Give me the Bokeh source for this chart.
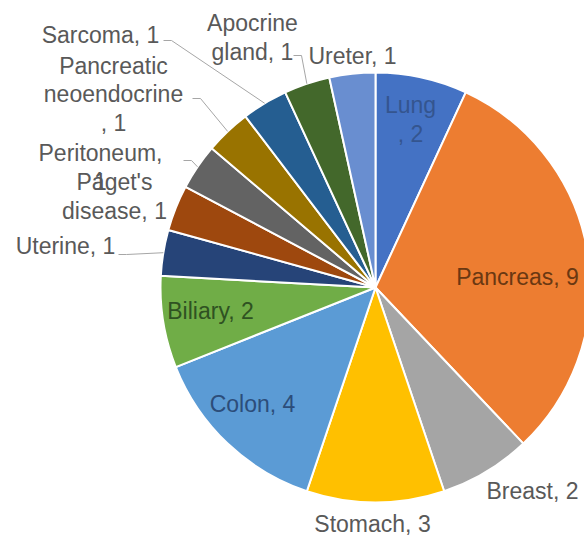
import math
from bokeh.plotting import figure
from bokeh.models import Range1d, ColumnDataSource
from bokeh.core.properties import value
from bokeh.embed import file_html
from bokeh.resources import INLINE

# ---- data ----
categories = ["Lung", "Pancreas", "Breast", "Stomach", "Colon", "Biliary", "Uterine",
              "Paget's disease", "Peritoneum", "Pancreatic neoendocrine", "Sarcoma",
              "Apocrine gland", "Ureter"]
counts = [2, 9, 2, 3, 4, 2, 1, 1, 1, 1, 1, 1, 1]
colors = ["#4472C4", "#ED7D31", "#A5A5A5", "#FFC000", "#5B9BD5", "#70AD47", "#264478",
          "#9E480E", "#636363", "#997300", "#255E91", "#43682B", "#698ED0"]
label_texts = ["Lung\n, 2", "Pancreas, 9", "Breast, 2", "Stomach, 3", "Colon, 4", "Biliary, 2",
               "Uterine, 1", "Páget's\ndisease, 1", "Peritoneum,\n1", "Pancreatic\nneoendocrine\n, 1",
               "Sarcoma, 1", "Apocrine\ngland, 1", "Ureter, 1"]

# ---- layout (pixel coordinates, y measured from top) ----
W, H = 584, 538
CX, CY, R = 375, 287, 215
label_pos = [(410, 119), (517, 276), (532, 490), (372, 523), (252, 403), (210, 310),
             (65, 245), (114, 196), (100, 167), (113, 94), (100, 34), (252, 37), (352, 55)]
label_colors = ["#34558f", "#6a3812", "#595959", "#595959", "#2c4d7a", "#2f5222",
                "#595959", "#595959", "#595959", "#595959", "#595959", "#595959", "#595959"]
# leader start points (pixel) for labels that have a leader line
leader_start = {"Sarcoma": (163, 40), "Apocrine gland": (293, 55),
                "Pancreatic neoendocrine": (192, 98), "Peritoneum": (183, 160),
                "Uterine": (118, 254)}

p = figure(width=W, height=H, output_backend="svg", toolbar_location=None,
           x_range=Range1d(0, W), y_range=Range1d(0, H), min_border=0)
p.axis.visible = False
p.grid.visible = False
p.outline_line_color = None
p.background_fill_color = "white"

total = sum(counts)
starts, ends, mids = [], [], []
cum = 0
for c in counts:
    a0 = math.pi / 2 - 2 * math.pi * cum / total
    a1 = math.pi / 2 - 2 * math.pi * (cum + c) / total
    starts.append(a0)
    ends.append(a1)
    mids.append((a0 + a1) / 2)
    cum += c

src = ColumnDataSource(dict(x=[CX] * len(counts), y=[H - CY] * len(counts),
                            start=starts, end=ends, color=colors, cat=categories))
p.wedge(x="x", y="y", radius=R, start_angle="start", end_angle="end", direction="clock",
        fill_color="color", line_color="white", line_width=2, source=src)

# leader lines
for i, cat in enumerate(categories):
    if cat in leader_start:
        sx, sy = leader_start[cat]
        ex = CX + R * math.cos(mids[i])
        ey = (H - CY) + R * math.sin(mids[i])
        xs = [sx, sx + 8, ex]
        ys = [H - sy, H - sy, ey]
        p.line(xs, ys, line_color="#A6A6A6", line_width=1)

lsrc = ColumnDataSource(dict(x=[lp[0] for lp in label_pos], y=[H - lp[1] for lp in label_pos],
                             text=label_texts, color=label_colors))
p.text(x="x", y="y", text="text", text_color="color", source=lsrc,
       text_font=value("Liberation Sans"), text_font_size="23px",
       text_align="center", text_baseline="middle", text_line_height=1.1)

open("out.html", "w").write(file_html(p, INLINE))
